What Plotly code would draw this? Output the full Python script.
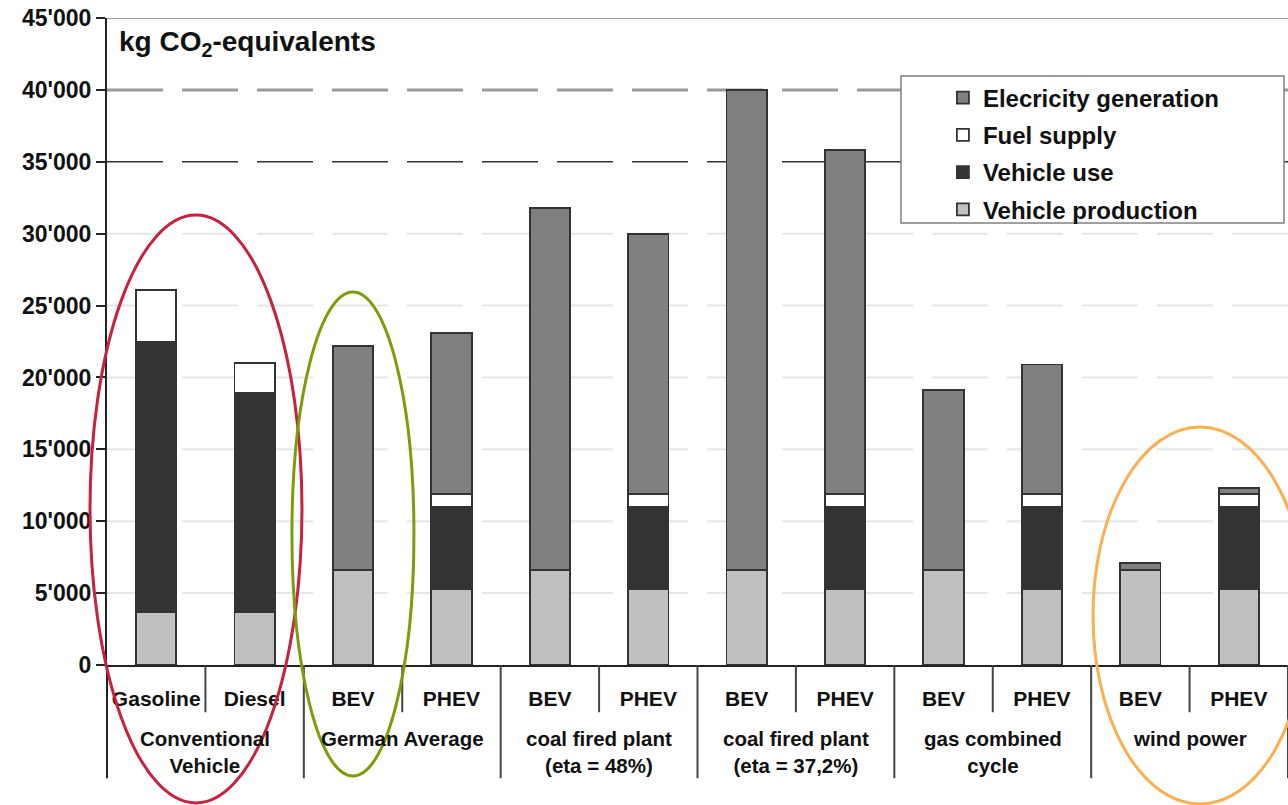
import plotly.graph_objects as go

# ---- data ----
groups = ["Conventional<br>Vehicle", "German Average", "coal fired plant<br>(eta = 48%)",
          "coal fired plant<br>(eta = 37,2%)", "gas combined<br>cycle", "wind power"]
sub_labels = ["Gasoline", "Diesel", "BEV", "PHEV", "BEV", "PHEV",
              "BEV", "PHEV", "BEV", "PHEV", "BEV", "PHEV"]
group_of = [0, 0, 1, 1, 2, 2, 3, 3, 4, 4, 5, 5]

vehicle_production = [3700, 3700, 6600, 5300, 6600, 5300, 6600, 5300, 6600, 5300, 6600, 5300]
vehicle_use = [18800, 15200, 0, 5700, 0, 5700, 0, 5700, 0, 5700, 0, 5700]
fuel_supply = [3600, 2100, 0, 900, 0, 900, 0, 900, 0, 900, 0, 900]
electricity_generation = [0, 0, 15600, 11200, 25200, 18100, 33400, 23900, 12500, 9000, 500, 400]

y_ticks = [0, 5000, 10000, 15000, 20000, 25000, 30000, 35000, 40000, 45000]
y_ticktext = ["0", "5'000", "10'000", "15'000", "20'000", "25'000", "30'000",
              "35'000", "40'000", "45'000"]

FONT = "Arial, 'Liberation Sans', sans-serif"
x = list(range(len(sub_labels)))

# (name, values, colour, legend rank)
series = [
    ("Vehicle production", vehicle_production, "#c0c0c0", 4),
    ("Vehicle use", vehicle_use, "#333333", 3),
    ("Fuel supply", fuel_supply, "#ffffff", 2),
    ("Elecricity generation", electricity_generation, "#808080", 1),
]

fig = go.Figure()
for name, vals, col, rank in series:
    fig.add_trace(go.Bar(
        x=x, y=vals, name=name, legendgroup=name, legendrank=rank,
        marker=dict(color=col, line=dict(color="#333333", width=1.8)),
        width=0.41,
    ))

shapes = []
# horizontal grid lines (styled per level)
for v in y_ticks[1:]:
    if v == 45000:
        ln = dict(color="#777777", width=1.5)
    elif v == 40000:
        ln = dict(color="#9a9a9a", width=3, dash="56px,19px")
    elif v == 35000:
        ln = dict(color="#333333", width=1.5, dash="56px,19px")
    else:
        ln = dict(color="#e6e6e6", width=2, dash="56px,19px")
    shapes.append(dict(type="line", xref="paper", yref="y", x0=0, x1=1, y0=v, y1=v,
                       line=ln, layer="below"))

# separators in the category label area
LONG = -0.175
SHORT = -0.073
shapes.append(dict(type="line", xref="paper", yref="paper", x0=0, x1=0, y0=0, y1=LONG,
                   line=dict(color="#222222", width=2)))
for i in range(1, len(x) + 1):
    is_group_edge = (i == len(x)) or (group_of[i] != group_of[i - 1])
    shapes.append(dict(type="line", xref="x", yref="paper", x0=i - 0.5, x1=i - 0.5,
                       y0=0, y1=LONG if is_group_edge else SHORT,
                       line=dict(color="#444444", width=2)))

# legend frame
shapes.append(dict(type="rect", xref="paper", yref="paper", x0=0.6723, x1=0.9966,
                   y0=0.6832, y1=0.9104, line=dict(color="#808080", width=1.5),
                   fillcolor="white", layer="below"))

# highlight ellipses
shapes.append(dict(type="circle", xref="paper", yref="paper", x0=-0.0144, x1=0.1651,
                   y0=-0.2133, y1=0.6955, line=dict(color="#c8203f", width=3)))
shapes.append(dict(type="circle", xref="paper", yref="paper", x0=0.1566, x1=0.2599,
                   y0=-0.1716, y1=0.5765, line=dict(color="#7c9c0a", width=3)))
shapes.append(dict(type="circle", xref="paper", yref="paper", x0=0.8349, x1=1.0161,
                   y0=-0.2148, y1=0.3679, line=dict(color="#f8b050", width=3)))

annotations = []
for g, name in enumerate(groups):
    members = [i for i in x if group_of[i] == g]
    annotations.append(dict(
        x=sum(members) / len(members), xref="x", y=-0.093, yref="paper",
        text=name, showarrow=False, xanchor="center", yanchor="top",
        font=dict(family=FONT, size=20.5, color="#111111", weight="bold"), align="center",
    ))
annotations.append(dict(
    x=0.0085, xref="paper", y=0.961, yref="paper", xanchor="left", yanchor="middle",
    text="<b>kg CO<sub>2</sub>-equivalents</b>", showarrow=False,
    font=dict(family=FONT, size=28, color="#111111"),
))

fig.update_layout(
    barmode="stack",
    width=1288, height=805,
    margin=dict(l=107, r=0, t=18, b=140),
    plot_bgcolor="white", paper_bgcolor="white",
    font=dict(family=FONT, color="#111111"),
    showlegend=True,
    legend=dict(
        x=0.7078, y=0.911, xanchor="left", yanchor="top",
        bgcolor="rgba(0,0,0,0)", borderwidth=0,
        traceorder="grouped", tracegroupgap=3,
        font=dict(family=FONT, size=24, color="#111111", weight="bold"),
        itemwidth=30,
    ),
    xaxis=dict(
        range=[-0.5, len(x) - 0.5], tickvals=x, ticktext=sub_labels,
        showgrid=False, zeroline=False, showline=True, linecolor="#222222", linewidth=2,
        ticks="", ticklabelstandoff=14,
        tickfont=dict(family=FONT, size=21, color="#111111", weight="bold"),
    ),
    yaxis=dict(
        range=[0, 45000], tickvals=y_ticks, ticktext=y_ticktext,
        showgrid=False, zeroline=False, showline=True, linecolor="#222222", linewidth=2,
        ticks="outside", ticklen=9, tickwidth=1.5, tickcolor="#222222",
        tickfont=dict(family=FONT, size=23, color="#111111", weight="bold"),
    ),
    shapes=shapes,
    annotations=annotations,
)

fig.write_html(
    "out.html",
    config={"displayModeBar": False},
    post_script="document.body.style.margin='0';document.body.style.overflow='hidden';",
)
